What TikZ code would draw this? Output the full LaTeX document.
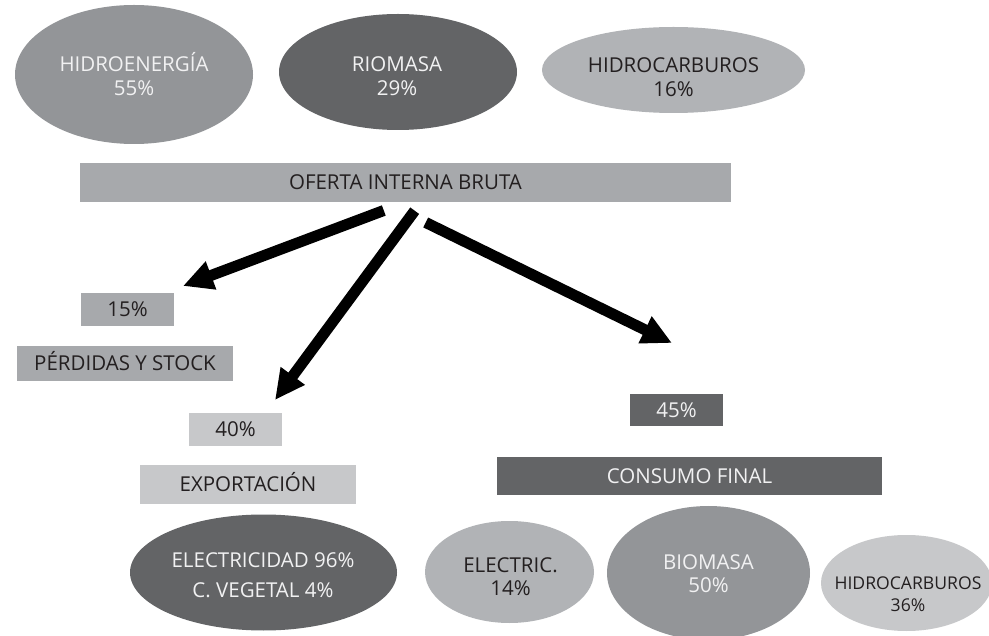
\documentclass[tikz,border=0pt]{standalone}
\usepackage{fontspec}
\setmainfont{Open Sans}
\usetikzlibrary{shapes.geometric,arrows.meta}
\definecolor{cmid}{HTML}{939598}
\definecolor{cdark}{HTML}{636466}
\definecolor{clight}{HTML}{B1B3B6}
\definecolor{cbar}{HTML}{A7A9AC}
\definecolor{cpale}{HTML}{C7C8CA}
\definecolor{tdark}{HTML}{231F20}
\definecolor{tlight}{HTML}{F1F1F2}
\begin{document}
\begin{tikzpicture}[x=1pt,y=-1pt,
  ell/.style={ellipse, inner sep=0pt, draw=none},
  boxnode/.style={rectangle, inner sep=0pt, draw=none, text height=14.6pt, text depth=0pt,
    font=\fontsize{20.5}{24}\selectfont},
  ln/.style={anchor=base, inner sep=0pt, font=\fontsize{20.5}{24}\selectfont},
  lnsmall/.style={anchor=base, inner sep=0pt, font=\fontsize{17.6}{22}\selectfont},
  flow/.style={line width=11pt, black, -{Triangle[length=30pt,width=28pt]}},
]
\clip (0,0) rectangle (989,636);
\fill[white] (0,0) rectangle (989,636);

% top ellipses
\node[ell, fill=cmid, minimum width=238pt, minimum height=139pt] (hidro) at (134,74.5) {};
\node[ln, text=tlight] (hidroA) at (134,72) {HIDROENERGÍA};
\node[ln, text=tlight] (hidroB) at (134,96) {55\%};

\node[ell, fill=cdark, minimum width=238pt, minimum height=116pt] (rio) at (398,72) {};
\node[ln, text=tlight] (rioA) at (397,72) {RIOMASA};
\node[ln, text=tlight] (rioB) at (397,96) {29\%};

\node[ell, fill=clight, minimum width=263pt, minimum height=86pt] (hcT) at (673.5,70) {};
\node[ln, text=tdark] (hcTA) at (673.5,73) {HIDROCARBUROS};
\node[ln, text=tdark] (hcTB) at (673.5,97) {16\%};

% bar
\node[boxnode, fill=cbar, text=tdark, minimum width=651pt, minimum height=39pt] (oferta) at (405.5,182.5) {OFERTA INTERNA BRUTA};

% left boxes
\node[boxnode, fill=cbar, text=tdark, minimum width=93pt, minimum height=33pt] (p15) at (127.5,309.5) {15\%};
\node[boxnode, fill=cbar, text=tdark, minimum width=216pt, minimum height=35pt] (perd) at (125,363.5) {PÉRDIDAS Y STOCK};
\node[boxnode, fill=cpale, text=tdark, minimum width=93pt, minimum height=33pt] (p40) at (235.5,429.5) {40\%};
\node[boxnode, fill=cpale, text=tdark, minimum width=216pt, minimum height=39pt] (expo) at (248,484.5) {EXPORTACIÓN};

% right boxes
\node[boxnode, fill=cdark, text=tlight, minimum width=93pt, minimum height=32pt] (p45) at (676.5,410) {45\%};
\node[boxnode, fill=cdark, text=tlight, minimum width=385pt, minimum height=38pt] (cons) at (689.5,476) {CONSUMO FINAL};

% bottom ellipses
\node[ell, fill=cdark, minimum width=267pt, minimum height=116pt] (elec) at (263.5,572.5) {};
\node[ln, text=tlight] (elecA) at (263,567) {ELECTRICIDAD 96\%};
\node[ln, text=tlight] (elecB) at (263,597) {C. VEGETAL 4\%};

\node[ell, fill=clight, minimum width=169pt, minimum height=102pt] (el) at (509.5,572) {};
\node[ln, text=tdark] (elA) at (510.5,572) {ELECTRIC.};
\node[ln, text=tdark] (elB) at (510.5,595) {14\%};

\node[ell, fill=cmid, minimum width=203pt, minimum height=134pt] (bio) at (708.5,573) {};
\node[ln, text=tlight] (bioA) at (708.5,569) {BIOMASA};
\node[ln, text=tlight] (bioB) at (708.5,592) {50\%};

\node[ell, fill=cpale, minimum width=171pt, minimum height=96pt] (hcB) at (906.5,583) {};
\node[lnsmall, text=tdark] (hcBA) at (908,589) {HIDROCARBUROS};
\node[lnsmall, text=tdark] (hcBB) at (908,611) {36\%};

% arrows
\coordinate (s1) at (383.8,210.5);
\coordinate (e1) at (183,286);
\coordinate (s2) at (414.7,210.7);
\coordinate (e2) at (275,400);
\coordinate (s3) at (425.7,222.5);
\coordinate (e3) at (672,343);
\draw[flow] (s1) -- (e1);
\draw[flow] (s2) -- (e2);
\draw[flow] (s3) -- (e3);
\end{tikzpicture}
\end{document}
